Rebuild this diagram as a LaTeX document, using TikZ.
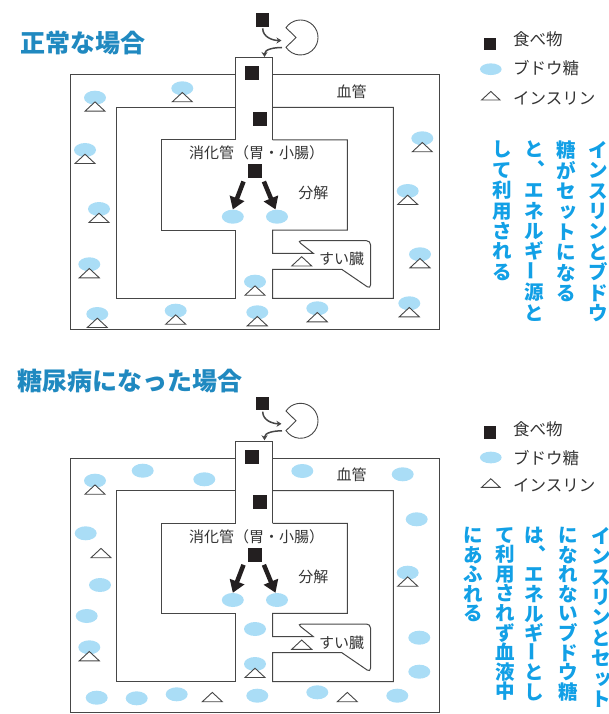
\documentclass[tikz,border=0pt]{standalone}
\usepackage{fontspec}
\setmainfont{Noto Sans CJK JP}
\usetikzlibrary{arrows.meta,shapes.geometric,calc}
\definecolor{ttlblue}{RGB}{32,137,192}
\definecolor{tateblue}{RGB}{18,160,230}
\definecolor{glublue}{RGB}{170,221,246}
\definecolor{wall}{RGB}{70,70,70}
\definecolor{foodblk}{RGB}{35,31,32}
% vertical writing helpers
\newcommand{\tcm}{\makebox[1em][l]{\hspace{0.7em}\raisebox{0.62em}[0pt][0pt]{\rlap{、}}}}
\newcommand{\tbar}{\smash{\raisebox{-0.08em}{\rotatebox{90}{ー}}}}
\newcommand{\tsm}[1]{\makebox[1em][l]{\hspace{0.1em}\raisebox{0.1em}{#1}}}
\tikzset{
  wallln/.style={draw=wall, line width=1pt},
  food/.style={rectangle, fill=foodblk, inner sep=0pt, minimum size=14pt},
  glu/.style={ellipse, fill=glublue, inner sep=0pt, minimum width=22pt, minimum height=14pt},
  insulin/.pic={\draw[wall, line width=0.9pt, fill=white] (-10,0) -- (0,9.3) -- (10,0) -- cycle;},
  lbl/.style={font=\fontsize{15}{17}\selectfont, text=black!80, inner sep=0pt},
  leg/.style={font=\fontsize{16.5}{18}\selectfont, text=black!80, inner sep=0pt, anchor=west},
  ttl/.style={font=\bfseries\fontsize{25}{28}\selectfont, text=ttlblue, inner sep=0pt, anchor=west},
  tate/.style={font=\bfseries\fontsize{19.5}{20.4}\selectfont, text=tateblue, inner sep=0pt, anchor=north, align=center},
  eatarr/.style={-{Stealth[length=5pt,width=6pt]}, wall, line width=1.5pt},
  bigarr/.style={-{Triangle[length=12pt,width=15pt]}, foodblk, line width=4.5pt},
}
% mouth, gut, blood vessel and pancreas
\newcommand{\organs}{%
  \node[food, minimum size=13.3pt] (food) at (262.7,-20) {};
  \coordinate (pac) at (300.5,-37.5);
  \draw[wall, line width=0.9pt, fill=white] ([shift={(146:17.5)}]pac) arc[start angle=146, end angle=-146, radius=17.5pt] -- ([xshift=-4.5pt]pac) -- cycle;
  \coordinate (bite) at (281.5,-40.5); \coordinate (gulp) at (282,-47.5); \coordinate (tubein) at (264.5,-57);
  \draw[eatarr] ([yshift=-1.5pt]food.south) to[out=-90,in=180] (bite);
  \draw[eatarr] (gulp) to[out=180,in=90] (tubein);
  \draw[wallln] (235.7,-140) -- (235.7,-58) -- (272.7,-58) -- (272.7,-140);
  \draw[wallln] (235.7,-75) -| (70,-329) -| (439,-75) -- (272.7,-75);
  \draw[wallln] (235.7,-107.3) -| (116.7,-298.3) -- (235.7,-298.3) -- (235.7,-230) -| (161.7,-140) -- (235.7,-140);
  \draw[wallln] (272.7,-107.3) -| (393.3,-298.3) -- (272.7,-298.3) -- (272.7,-269.3) -- (341.7,-269.3)
    [rounded corners=4pt] -- (370.5,-289) -- (370.5,-240.7) -- (297.3,-240.7) [sharp corners] -- (313.3,-253.3)
    -- (272.7,-253.3) -- (272.7,-230) -- (347.3,-230) -- (347.3,-140) -- (272.7,-140);
  \node[food] (s1) at (252,-73.3) {};
  \node[food] (s2) at (259.7,-119) {};
  \node[food] (s3) at (254.7,-171.3) {};
  \node[glu] (g1) at (232.8,-216.7) {};
  \node[glu] (g2) at (277,-216.7) {};
  \draw[bigarr] ([shift={(-4,-3)}]s3.south west) -- (g1.north);
  \draw[bigarr] ([shift={(2,-3)}]s3.south east) -- ([xshift=-1.5pt]g2.north);
  \pic at (301.7,-266) {insulin};
  \node[lbl] (gut) at (256.7,-153.3) {消化管（胃・小腸）};
  \node[lbl] (split) at (313.3,-193.3) {分解};
  \node[lbl] (vessel) at (351.7,-91.7) {血管};
  \node[lbl] (pancreas) at (341.5,-259.3) {すい臓};
}

\begin{document}
\begin{tikzpicture}[x=1pt, y=1pt]
  \useasboundingbox (0,0) rectangle (608,-714);
  % normal case
  \node[ttl] (title1) at (20,-43.3) {正常な場合};
  \begin{scope}[name prefix=up-] \organs \end{scope}
  \foreach \x/\y [count=\i] in {95/97.7, 182.3/88.3, 85/150, 99/209, 89.3/264.3, 97.3/314, 175.7/310.7,
      255/281.7, 257.3/312.3, 317.3/308.3, 409.3/303.3, 420/254.3, 407.7/191, 422.3/138.3}
    {\node[glu] (ug\i) at (\x,-\y) {}; \pic at ([yshift=-13.5pt]ug\i) {insulin};}
  \node[food, minimum size=12.5pt] (lf1) at (490,-44) {};
  \node[leg] (lt1) at (513,-39) {食べ物};
  \node[glu, minimum width=21.7pt, minimum height=11.7pt] (lg1) at (490.8,-69.2) {};
  \node[leg] (lt2) at (513,-68.5) {ブドウ糖};
  \pic[scale=0.92] at (490.8,-100) {insulin};
  \node[leg] (lt3) at (513,-98.5) {インスリン};
  \node[tate] (ta1) at (598,-141) {イ\\ン\\ス\\リ\\ン\\と\\ブ\\ド\\ウ};
  \node[tate] (ta2) at (566,-141) {糖\\が\\セ\\\tsm{ッ}\\ト\\に\\な\\る};
  \node[tate] (ta3) at (534,-141) {と\\\tcm\\エ\\ネ\\ル\\ギ\\\tbar\\源\\と};
  \node[tate] (ta4) at (502.7,-141) {し\\て\\利\\用\\さ\\れ\\る};
  % diabetes case
  \node[ttl] (title2) at (17.5,-381) {糖尿病になった場合};
  \begin{scope}[yshift=-383.3pt, name prefix=dn-] \organs \end{scope}
  \foreach \x/\y [count=\i] in {142.7/470.7, 204.3/479.3, 302.3/471, 402.7/474.3, 85.7/533.3, 100/585,
      86.7/616, 96.7/697.7, 136.7/698.3, 176.7/694.3, 257.3/695.7, 317.3/692.3, 397.3/695.7,
      419.3/671.7, 419.3/637.7, 416.7/519.3, 255/629}
    \node[glu] (dg\i) at (\x,-\y) {};
  \foreach \x/\y [count=\i] in {95/480.7, 89.3/647.3, 407.7/572.7, 255/664}
    {\node[glu] (dp\i) at (\x,-\y) {}; \pic at ([yshift=-13.5pt]dp\i) {insulin};}
  \foreach \x/\y in {101/557.7, 212.3/701.7, 347.3/701.7}
    \pic at (\x,-\y) {insulin};
  \node[food, minimum size=12.5pt] (lf2) at (490,-432.5) {};
  \node[leg] (lt4) at (513,-429.3) {食べ物};
  \node[glu, minimum width=21.7pt, minimum height=11.7pt] (lg2) at (490.8,-457.5) {};
  \node[leg] (lt5) at (513,-458.3) {ブドウ糖};
  \pic[scale=0.92] at (490.8,-487.3) {insulin};
  \node[leg] (lt6) at (513,-485) {インスリン};
  \node[tate] (tb1) at (601,-527) {イ\\ン\\ス\\リ\\ン\\と\\セ\\\tsm{ッ}\\ト};
  \node[tate, font=\bfseries\fontsize{19.5}{19.6}\selectfont] (tb2) at (568.5,-527) {に\\な\\れ\\な\\い\\ブ\\ド\\ウ\\糖};
  \node[tate, font=\bfseries\fontsize{19.5}{19.6}\selectfont] (tb3) at (534.5,-527) {は\\\tcm\\エ\\ネ\\ル\\ギ\\\tbar\\と\\し};
  \node[tate, font=\bfseries\fontsize{19.5}{19.6}\selectfont] (tb4) at (505,-527) {て\\利\\用\\さ\\れ\\ず\\血\\液\\中};
  \node[tate, font=\bfseries\fontsize{19.5}{19.6}\selectfont] (tb5) at (473.3,-527) {に\\あ\\ふ\\れ\\る};
\end{tikzpicture}
\end{document}
